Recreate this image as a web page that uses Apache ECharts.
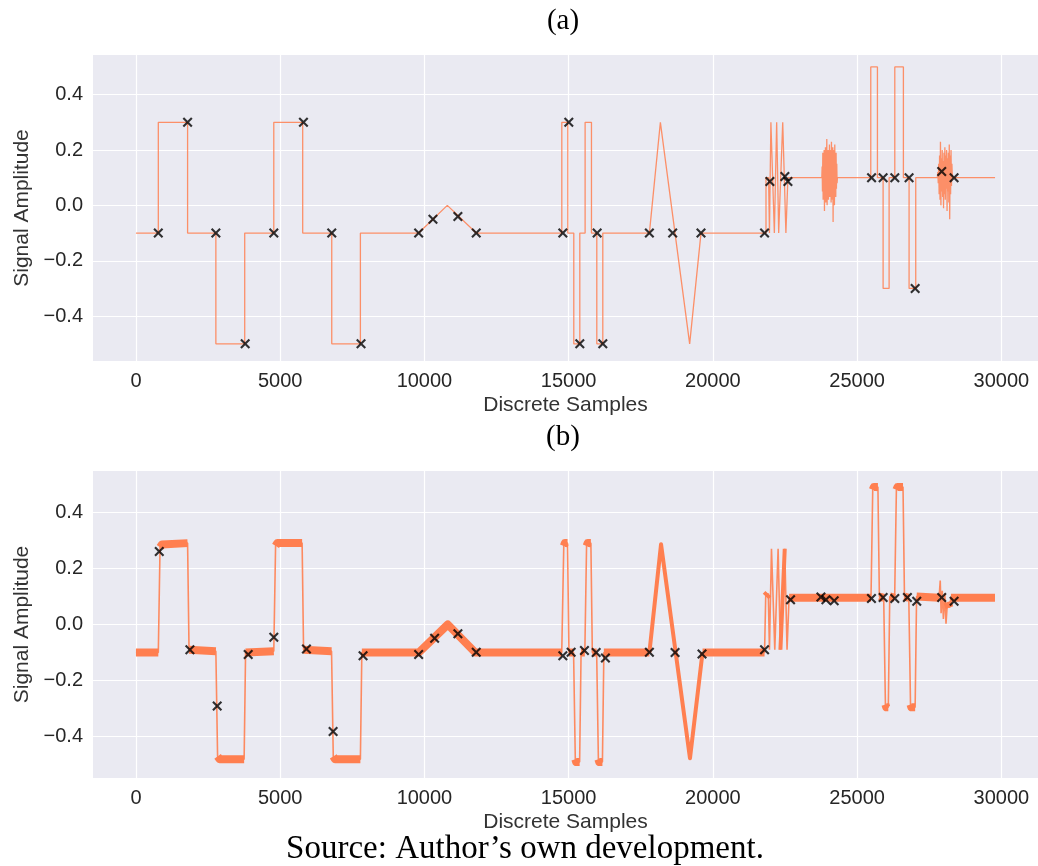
<!DOCTYPE html>
<html>
<head>
<meta charset="utf-8">
<script src="https://cdn.jsdelivr.net/npm/echarts@6/dist/echarts.min.js"></script>
<style>
  html, body { margin: 0; padding: 0; background: #ffffff; }
  #chart { width: 1038px; height: 866px; }
</style>
</head>
<body>
<div id="chart"></div>
<script>
// ---- data -------------------------------------------------------------
// (a) reference signal: breakpoints [sample, amplitude]
const cleanSignal = [
  [0, -0.1], [775, -0.1], [775, 0.3], [1790, 0.3], [1790, -0.1], [2770, -0.1],
  [2770, -0.5], [3770, -0.5], [3770, -0.1], [4778, -0.1], [4778, 0.3], [5780, 0.3],
  [5780, -0.1], [6787, -0.1], [6787, -0.5], [7780, -0.5], [7780, -0.1], [9799, -0.1],
  [10793, 0.0], [11796, -0.1], [14762, -0.1], [14762, 0.3], [14970, 0.3], [14970, -0.1],
  [15177, -0.1], [15177, -0.5], [15386, -0.5], [15386, -0.1], [15570, -0.1], [15570, 0.3],
  [15790, 0.3], [15790, -0.1], [15975, -0.1], [15975, -0.5], [16183, -0.5], [16183, -0.1],
  [17798, -0.1], [18179, 0.3], [19194, -0.5], [19587, -0.1], [21840, -0.1], [21840, 0.1],
  [21930, 0.1], [21960, -0.1], [22010, 0.3], [22130, -0.1], [22210, 0.3], [22280, -0.1],
  [22420, 0.3], [22530, -0.1], [22600, 0.1], [23775, 0.1], [24316, 0.1], [25472, 0.1],
  [25472, 0.5], [25703, 0.5], [25703, 0.1], [25900, 0.1], [25900, -0.3], [26108, -0.3],
  [26108, 0.1], [26305, 0.1], [26305, 0.5], [26603, 0.5], [26603, 0.1], [26800, 0.1],
  [26800, -0.3], [27031, -0.3], [27031, 0.1], [27781, 0.1], [28300, 0.1], [29780, 0.1]
];

// (a) oscillating bursts: sample span and amplitudes inside it
const burst1Span = [23775, 24316];
const burst1Values = [
  0.14, 0.05, 0.19, 0.02, 0.17, 0.04, 0.20, -0.02, 0.18, 0.03, 0.21, 0.01,
  0.16, 0.05, 0.24, 0.00, 0.19, 0.04, 0.20, 0.02, 0.17, 0.06, 0.22, 0.03,
  0.18, 0.05, 0.20, 0.01, 0.23, 0.04, 0.19, 0.02, 0.21, -0.06, 0.18, 0.03,
  0.20, 0.00, 0.22, 0.05, 0.17, 0.03, 0.19, 0.06, 0.15, 0.08
];
const burst2Span = [27781, 28300];
const burst2Values = [
  0.12, 0.08, 0.15, 0.04, 0.18, 0.02, 0.23, 0.00, 0.17, 0.05, 0.20, 0.03,
  0.16, -0.01, 0.19, 0.04, 0.21, 0.02, 0.18, 0.06, 0.20, -0.02, 0.17, 0.05,
  0.19, 0.01, 0.22, -0.05, 0.18, 0.04, 0.20, 0.07, 0.15
];

// (a) detected points
const cleanMarkers = [
  [775, -0.1], [1790, 0.3], [2770, -0.1], [3786, -0.5], [4778, -0.1], [5806, 0.3],
  [6787, -0.1], [7802, -0.5], [9799, -0.1], [10295, -0.05], [11160, -0.04], [11796, -0.1],
  [14797, -0.1], [15004, 0.3], [15386, -0.5], [15987, -0.1], [16183, -0.5], [17798, -0.1],
  [18605, -0.1], [19587, -0.1], [21790, -0.1], [21975, 0.086], [22495, 0.104], [22600, 0.086],
  [25500, 0.1], [25900, 0.1], [26305, 0.1], [26800, 0.1], [27010, -0.3], [27931, 0.122],
  [28360, 0.1]
];

// (b) received signal: breakpoints [sample, amplitude]
const noisySignal = [
  [0, -0.1], [775, -0.1], [835, 0.275], [900, 0.285], [1790, 0.29], [1840, -0.09],
  [2770, -0.095], [2830, -0.47], [2900, -0.48], [3750, -0.48], [3800, -0.1], [4778, -0.095],
  [4840, 0.28], [4900, 0.29], [5760, 0.29], [5810, -0.09], [6780, -0.095], [6840, -0.47],
  [6900, -0.48], [7780, -0.48], [7830, -0.1], [9800, -0.1], [10810, 0.0], [11760, -0.1],
  [14760, -0.1], [14830, 0.28], [14870, 0.29], [14960, 0.29], [15010, -0.1], [15170, -0.1],
  [15230, -0.48], [15260, -0.49], [15380, -0.49], [15430, -0.1], [15560, -0.1], [15620, 0.28],
  [15660, 0.29], [15770, 0.29], [15820, -0.1], [15970, -0.1], [16030, -0.48], [16060, -0.49],
  [16170, -0.49], [16220, -0.1], [17798, -0.1], [18202, 0.286], [19205, -0.477], [19640, -0.1],
  [21790, -0.1], [21830, 0.1], [21920, 0.11], [21960, -0.09], [22030, 0.27], [22145, -0.09],
  [22260, 0.27], [22340, -0.09], [22490, 0.27], [22570, -0.09], [22640, 0.095], [25480, 0.095],
  [25540, 0.48], [25580, 0.49], [25720, 0.49], [25770, 0.1], [25920, 0.095], [25980, -0.285],
  [26010, -0.295], [26080, -0.295], [26130, 0.1], [26300, 0.095], [26360, 0.48], [26400, 0.49],
  [26590, 0.49], [26640, 0.1], [26790, 0.095], [26850, -0.285], [26880, -0.295], [27010, -0.295],
  [27060, 0.1], [27840, 0.095], [27880, 0.157], [27910, 0.04], [27950, 0.12], [27990, 0.02],
  [28040, 0.11], [28080, 0.003], [28130, 0.08], [28200, 0.06], [28250, 0.095], [29778, 0.095]
];

// (b) detected points
const noisyMarkers = [
  [808, 0.26], [1870, -0.09], [2816, -0.29], [3890, -0.107], [4778, -0.045], [5910, -0.087],
  [6833, -0.381], [7872, -0.111], [9799, -0.107], [10353, -0.049], [11160, -0.033], [11796, -0.099],
  [14797, -0.111], [15086, -0.099], [15547, -0.093], [15952, -0.1], [16274, -0.119], [17798, -0.099],
  [18687, -0.1], [19622, -0.105], [21790, -0.09], [22691, 0.088], [23744, 0.098], [23917, 0.088],
  [24204, 0.085], [25496, 0.093], [25900, 0.096], [26305, 0.093], [26742, 0.096], [27066, 0.083],
  [27931, 0.096], [28360, 0.083]
];

// axis ticks
const xTicks = [0, 5000, 10000, 15000, 20000, 25000, 30000];
const yTicks = [-0.4, -0.2, 0.0, 0.2, 0.4];

// ---- helpers ----------------------------------------------------------
function withBursts(points, bursts) {
  const out = points.slice();
  bursts.forEach(([span, vals]) => {
    const step = (span[1] - span[0]) / (vals.length + 1);
    vals.forEach((v, i) => out.push([span[0] + step * (i + 1), v]));
  });
  // stable sort keeps vertical steps in order
  return out.sort((a, b) => a[0] - b[0]);
}

// Noise band of the received signal: pick the segments of a given kind,
// breaking the polyline wherever a segment of another kind sits in between.
//   'flat' : plateaus and gentle slopes
//   'ramp' : long steep slopes (triangle sides)
function segmentKind(a, b) {
  const dx = b[0] - a[0], dy = Math.abs(b[1] - a[1]);
  if (dy < 0.03) return 'flat';
  if (dx < 150) return 'edge';
  return dy / dx < 0.00015 ? 'flat' : 'ramp';
}
function bandSegments(points, kind) {
  const out = [];
  let open = false;
  for (let i = 0; i < points.length - 1; i++) {
    const a = points[i], b = points[i + 1];
    if (segmentKind(a, b) === kind) {
      if (!open) out.push(a);
      out.push(b);
      open = true;
    } else if (open) {
      out.push([a[0], '-']);
      open = false;
    }
  }
  return out;
}

const CORAL = '#ff7f50';
const FONT = '"Liberation Sans", Arial, sans-serif';
const SERIF = '"Liberation Serif", "Times New Roman", serif';
const X_SYMBOL = 'path://M0 1.5L1.5 0L5 3.5L8.5 0L10 1.5L6.5 5L10 8.5L8.5 10L5 6.5L1.5 10L0 8.5L3.5 5Z';

function xAxisCfg(gridIndex) {
  return {
    type: 'value', gridIndex, min: -1489, max: 31269,
    name: 'Discrete Samples', nameLocation: 'middle', nameGap: 34,
    nameTextStyle: { fontFamily: FONT, fontSize: 21, color: '#333333' },
    axisLine: { show: false },
    axisTick: { show: false, customValues: xTicks },
    axisLabel: { customValues: xTicks, margin: 10, fontFamily: FONT, fontSize: 20, color: '#262626',
                 formatter: v => String(v) },
    splitLine: { show: true, lineStyle: { color: '#ffffff', width: 1.2 } }
  };
}
function yAxisCfg(gridIndex, min, max) {
  return {
    type: 'value', gridIndex, min, max,
    name: 'Signal Amplitude', nameLocation: 'middle', nameGap: 60,
    nameTextStyle: { fontFamily: FONT, fontSize: 21, color: '#333333' },
    axisLine: { show: false },
    axisTick: { show: false, customValues: yTicks },
    axisLabel: { customValues: yTicks, margin: 10, fontFamily: FONT, fontSize: 20, color: '#262626',
                 formatter: v => (v < -1e-9 ? '\u2212' : '') + Math.abs(v).toFixed(1) },
    splitLine: { show: true, lineStyle: { color: '#ffffff', width: 1.2 } }
  };
}

const topLine = withBursts(cleanSignal, [[burst1Span, burst1Values], [burst2Span, burst2Values]]);

const chart = echarts.init(document.getElementById('chart'), null, { renderer: 'canvas' });
chart.setOption({
  animation: false,
  backgroundColor: '#ffffff',
  grid: [
    { left: 93, top: 55, width: 947, height: 306, show: true, backgroundColor: '#eaeaf2', borderWidth: 0 },
    { left: 93, top: 471, width: 947, height: 307, show: true, backgroundColor: '#eaeaf2', borderWidth: 0 }
  ],
  xAxis: [xAxisCfg(0), xAxisCfg(1)],
  yAxis: [yAxisCfg(0, -0.562, 0.543), yAxisCfg(1, -0.547, 0.547)],
  graphic: [
    { type: 'text', x: 563, y: 21, style: { text: '(a)', font: '29px ' + SERIF, fill: '#000',
      textAlign: 'center', textVerticalAlign: 'middle', align: 'center', verticalAlign: 'middle' } },
    { type: 'text', x: 563, y: 437, style: { text: '(b)', font: '29px ' + SERIF, fill: '#000',
      textAlign: 'center', textVerticalAlign: 'middle', align: 'center', verticalAlign: 'middle' } },
    { type: 'text', x: 525, y: 849, style: { text: 'Source: Author\u2019s own development.', font: '33px ' + SERIF,
      fill: '#000', textAlign: 'center', textVerticalAlign: 'middle', align: 'center', verticalAlign: 'middle' } }
  ],
  series: [
    { type: 'line', xAxisIndex: 0, yAxisIndex: 0, data: topLine, symbol: 'none', sampling: null,
      lineStyle: { color: CORAL, width: 1.3, opacity: 0.85 }, z: 2 },
    { type: 'scatter', xAxisIndex: 0, yAxisIndex: 0, data: cleanMarkers, symbol: X_SYMBOL, symbolSize: 10,
      itemStyle: { color: '#000000' }, z: 5 },
    { type: 'line', xAxisIndex: 1, yAxisIndex: 1, data: noisySignal, symbol: 'none',
      lineStyle: { color: CORAL, width: 1.6, opacity: 0.9 }, z: 2 },
    { type: 'line', xAxisIndex: 1, yAxisIndex: 1, data: bandSegments(noisySignal, 'flat'), symbol: 'none',
      connectNulls: false, lineStyle: { color: CORAL, width: 8, opacity: 1, join: 'round' }, z: 3 },
    { type: 'line', xAxisIndex: 1, yAxisIndex: 1, data: bandSegments(noisySignal, 'ramp'), symbol: 'none',
      connectNulls: false, lineStyle: { color: CORAL, width: 4, opacity: 1, join: 'round' }, z: 3 },
    { type: 'scatter', xAxisIndex: 1, yAxisIndex: 1, data: noisyMarkers, symbol: X_SYMBOL, symbolSize: 10,
      itemStyle: { color: '#000000' }, z: 5 }
  ]
});
</script>
</body>
</html>
